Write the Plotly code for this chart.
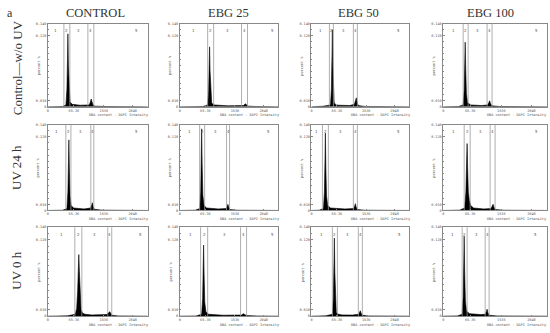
import plotly.graph_objects as go

# ---------------- data ----------------
col_titles = ["CONTROL", "EBG 25", "EBG 50", "EBG 100"]
row_titles = ["Control\u2014w/o UV", "UV 24 h", "UV 0 h"]
region_labels = ["1", "2", "3", "4", "5"]
x_tickvals = [0, 266, 573, 870]
x_ticktext = ["0", "65.36", "1536", "2048"]
y_tickvals = [0, 0.01, 0.12, 0.14]
y_ticktext = ["0", "0.010", "0.120", "0.140"]
x_axis_title = "DNA content - DAPI Intensity"
y_axis_title = "percent %"

# row 1 : Control - w/o UV
r1c1_x = [0, 150, 185, 195, 201, 205, 210, 217, 227, 250, 330, 420, 432, 440, 445, 451, 460, 480, 600, 1024]
r1c1_y = [0, 0.0004, 0.003, 0.03, 0.08, 0.123, 0.07, 0.025, 0.008, 0.004, 0.0025, 0.003, 0.006, 0.011, 0.013, 0.009, 0.004, 0.001, 0.0003, 0]
r1c1_gates = [164, 225, 410, 471]

r1c2_x = [0, 240, 290, 300, 306, 310, 315, 322, 332, 360, 500, 660, 675, 683, 692, 710, 800, 1024]
r1c2_y = [0, 0.0003, 0.003, 0.025, 0.07, 0.101, 0.06, 0.02, 0.006, 0.003, 0.0015, 0.002, 0.004, 0.005, 0.003, 0.001, 0.0003, 0]
r1c2_gates = [290, 352, 641, 703]

r1c3_x = [0, 120, 200, 209, 215, 219, 224, 231, 238, 246, 256, 290, 400, 450, 462, 470, 477, 490, 560, 1024]
r1c3_y = [0, 0.0008, 0.003, 0.03, 0.085, 0.130, 0.07, 0.02, 0.006, 0.0055, 0.003, 0.0025, 0.002, 0.004, 0.009, 0.015, 0.008, 0.002, 0.0005, 0]
r1c3_gates = [188, 230, 439, 481]

r1c4_x = [0, 150, 197, 207, 213, 217, 222, 229, 240, 270, 380, 440, 451, 458, 465, 478, 560, 1024]
r1c4_y = [0, 0.0004, 0.003, 0.028, 0.075, 0.109, 0.065, 0.022, 0.007, 0.003, 0.002, 0.003, 0.007, 0.010, 0.006, 0.0015, 0.0004, 0]
r1c4_gates = [197, 246, 433, 482]

# row 2 : UV 24 h
r2c1_x = [0, 150, 195, 205, 211, 215, 220, 227, 238, 265, 370, 438, 449, 456, 463, 475, 560, 1024]
r2c1_y = [0, 0.0004, 0.003, 0.03, 0.08, 0.115, 0.068, 0.024, 0.008, 0.004, 0.0025, 0.004, 0.009, 0.0125, 0.007, 0.002, 0.0005, 0]
r2c1_gates = [184, 236, 440, 471]

r2c2_x = [0, 160, 208, 218, 224, 228, 233, 240, 252, 280, 400, 482, 493, 500, 507, 520, 600, 1024]
r2c2_y = [0, 0.0004, 0.003, 0.03, 0.09, 0.133, 0.075, 0.025, 0.008, 0.004, 0.0025, 0.003, 0.007, 0.010, 0.006, 0.0015, 0.0004, 0]
r2c2_gates = [207, 259, 486, 517]

r2c3_x = [0, 80, 126, 136, 142, 146, 151, 158, 170, 200, 350, 442, 453, 460, 467, 480, 560, 1024]
r2c3_y = [0, 0.0004, 0.003, 0.03, 0.085, 0.126, 0.07, 0.024, 0.008, 0.004, 0.0025, 0.003, 0.007, 0.011, 0.006, 0.0015, 0.0004, 0]
r2c3_gates = [115, 177, 439, 481]

r2c4_x = [0, 160, 212, 224, 231, 236, 241, 248, 258, 272, 300, 400, 472, 485, 492, 499, 512, 600, 1024]
r2c4_y = [0, 0.0005, 0.004, 0.03, 0.08, 0.109, 0.07, 0.03, 0.016, 0.008, 0.004, 0.0025, 0.003, 0.007, 0.010, 0.006, 0.0015, 0.0004, 0]
r2c4_gates = [207, 266, 463, 512]

# row 3 : UV 0 h
r3c1_x = [0, 200, 280, 295, 305, 312, 317, 323, 330, 340, 355, 380, 450, 600, 620, 630, 635, 642, 655, 720, 1024]
r3c1_y = [0, 0.0005, 0.003, 0.012, 0.04, 0.08, 0.097, 0.07, 0.03, 0.01, 0.005, 0.003, 0.002, 0.0025, 0.005, 0.0065, 0.007, 0.005, 0.0015, 0.0004, 0]
r3c1_gates = [276, 348, 614, 655]

r3c2_x = [0, 170, 228, 238, 244, 248, 253, 260, 272, 300, 450, 640, 654, 662, 670, 690, 800, 1024]
r3c2_y = [0, 0.0003, 0.003, 0.028, 0.08, 0.112, 0.065, 0.022, 0.007, 0.003, 0.0015, 0.0018, 0.0032, 0.004, 0.003, 0.001, 0.0003, 0]
r3c2_gates = [217, 290, 631, 693]

r3c3_x = [0, 150, 220, 230, 236, 240, 245, 252, 260, 270, 285, 320, 430, 495, 505, 512, 519, 532, 600, 1024]
r3c3_y = [0, 0.0005, 0.003, 0.03, 0.085, 0.123, 0.07, 0.022, 0.006, 0.004, 0.003, 0.002, 0.0018, 0.003, 0.006, 0.0085, 0.005, 0.0015, 0.0004, 0]
r3c3_gates = [219, 272, 491, 533]

r3c4_x = [0, 140, 187, 197, 203, 207, 212, 219, 230, 260, 370, 415, 426, 433, 440, 452, 530, 1024]
r3c4_y = [0, 0.0004, 0.003, 0.03, 0.085, 0.126, 0.07, 0.024, 0.008, 0.004, 0.0025, 0.003, 0.007, 0.011, 0.006, 0.0015, 0.0004, 0]
r3c4_gates = [187, 236, 414, 453]

panels = [
    [(r1c1_x, r1c1_y, r1c1_gates), (r1c2_x, r1c2_y, r1c2_gates), (r1c3_x, r1c3_y, r1c3_gates), (r1c4_x, r1c4_y, r1c4_gates)],
    [(r2c1_x, r2c1_y, r2c1_gates), (r2c2_x, r2c2_y, r2c2_gates), (r2c3_x, r2c3_y, r2c3_gates), (r2c4_x, r2c4_y, r2c4_gates)],
    [(r3c1_x, r3c1_y, r3c1_gates), (r3c2_x, r3c2_y, r3c2_gates), (r3c3_x, r3c3_y, r3c3_gates), (r3c4_x, r3c4_y, r3c4_gates)],
]

# ---------------- layout geometry (page pixels) ----------------
W, H = 550, 333
col_px = [(47, 147), (179, 278), (311, 409), (443, 547)]
row_px = [(22, 106), (124, 211), (228, 318)]
X_MAX = 1024
Y_MAX = 0.14


def fx(px):
    return px / W


def fy(py):
    return 1 - py / H


serif = "Liberation Serif, Times New Roman, serif"
tiny = dict(family="DejaVu Sans Mono, monospace", size=3.5, color="#555")
axis_col = "#888"

fig = go.Figure()
shapes = []
annotations = []
layout_axes = {}

idx = 0
for r in range(3):
    for c in range(4):
        idx += 1
        xs, ys, gates = panels[r][c]
        xa = "x" if idx == 1 else f"x{idx}"
        ya = "y" if idx == 1 else f"y{idx}"
        fig.add_trace(go.Scatter(
            x=xs, y=ys, xaxis=xa, yaxis=ya, mode="lines",
            line=dict(color="black", width=0.6), fill="tozeroy",
            fillcolor="black", showlegend=False, hoverinfo="skip"))
        x0p, x1p = col_px[c]
        y0p, y1p = row_px[r]
        layout_axes[f"xaxis{idx}"] = dict(
            domain=[fx(x0p), fx(x1p)], range=[0, X_MAX], anchor=ya,
            showgrid=False, zeroline=False, showline=True, mirror=True,
            linecolor=axis_col, linewidth=0.6, tickvals=x_tickvals,
            ticktext=x_ticktext, ticks="inside", ticklen=1.5,
            tickcolor=axis_col, tickwidth=0.5, tickfont=tiny)
        layout_axes[f"yaxis{idx}"] = dict(
            domain=[fy(y1p), fy(y0p)], range=[0, Y_MAX], anchor=xa,
            showgrid=False, zeroline=False, showline=True, mirror=True,
            linecolor=axis_col, linewidth=0.6, tickvals=y_tickvals,
            ticktext=y_ticktext, ticks="inside", ticklen=2,
            tickcolor=axis_col, tickwidth=0.5, tickfont=tiny,
            minor=dict(ticks="inside", dtick=0.01, ticklen=1.2,
                       tickcolor=axis_col, tickwidth=0.5))
        # gate lines
        for g in gates:
            shapes.append(dict(type="line", xref=xa, yref=f"{ya} domain",
                               x0=g, x1=g, y0=0, y1=1,
                               line=dict(color="#9a9a9a", width=0.8)))
        # region labels
        bounds = [0] + gates + [X_MAX]
        for k, lab in enumerate(region_labels):
            if k < 4:
                xm = (bounds[k] + bounds[k + 1]) / 2
            else:
                xm = bounds[4] + 0.8 * (bounds[5] - bounds[4])
            annotations.append(dict(text=lab, xref=xa, yref=f"{ya} domain",
                                    x=xm, y=0.97, xanchor="center", yanchor="top",
                                    showarrow=False,
                                    font=dict(family="DejaVu Sans Mono", size=4, color="#555")))
        # axis titles
        annotations.append(dict(text=x_axis_title, xref="paper", yref="paper",
                                x=fx(x0p + 0.71 * (x1p - x0p)), y=fy(y1p + 8.5),
                                xanchor="center", yanchor="middle",
                                showarrow=False, font=tiny))
        annotations.append(dict(text=y_axis_title, xref="paper", yref="paper",
                                x=fx(x0p - 9), y=fy((y0p + y1p) / 2),
                                xanchor="center", yanchor="middle",
                                textangle=-90, showarrow=False, font=tiny))

# column titles
col_centers = [95, 228, 358, 490]
for c, t in enumerate(col_titles):
    annotations.append(dict(text=t, xref="paper", yref="paper",
                            x=fx(col_centers[c]), y=fy(11), xanchor="center",
                            yanchor="middle", showarrow=False,
                            font=dict(family=serif, size=12.5, color="#333")))
# row titles
row_centers = [66, 167, 271]
for r, t in enumerate(row_titles):
    annotations.append(dict(text=t, xref="paper", yref="paper",
                            x=fx(16), y=fy(row_centers[r]), textangle=-90,
                            xanchor="center", yanchor="middle", showarrow=False,
                            font=dict(family=serif, size=13, color="#333")))
annotations.append(dict(text="a", xref="paper", yref="paper", x=fx(9), y=fy(11),
                        xanchor="center", yanchor="middle", showarrow=False,
                        font=dict(family=serif, size=12, color="#333")))

fig.update_layout(width=W, height=H, margin=dict(l=0, r=0, t=0, b=0),
                  paper_bgcolor="white", plot_bgcolor="white",
                  shapes=shapes, annotations=annotations, **layout_axes)

fig.write_html("out.html", config={"displayModeBar": False},
               post_script="document.body.style.margin='0';document.body.style.overflow='hidden';")
